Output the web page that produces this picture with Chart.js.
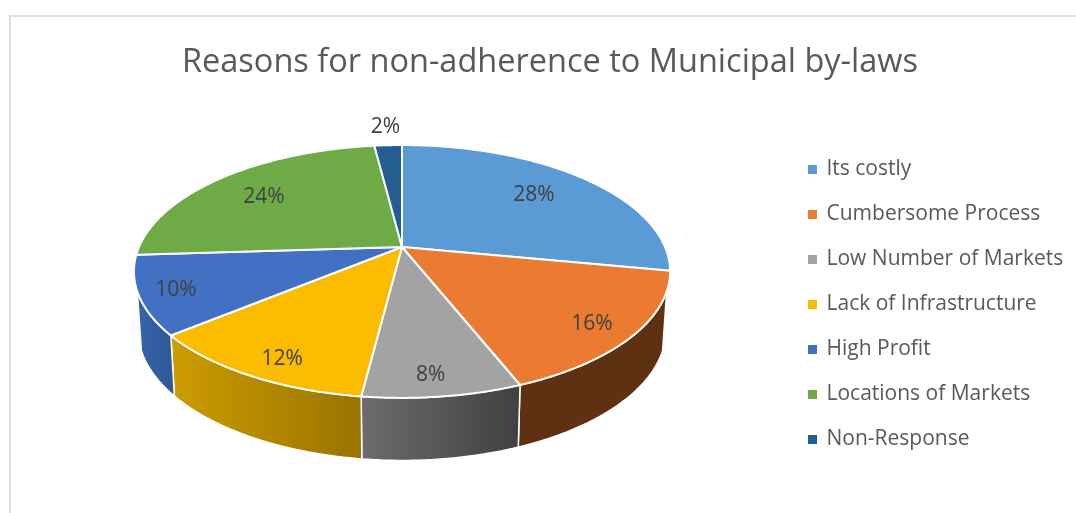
<!DOCTYPE html>
<html>
<head>
<meta charset="utf-8">
<title>Reasons for non-adherence to Municipal by-laws</title>
<script src="https://cdn.jsdelivr.net/npm/chart.js@4/dist/chart.umd.js"></script>
<style>
  html, body { margin: 0; background: #fff; overflow: hidden; }
  #frame { position: absolute; left: 9px; top: 15px; right: -2px; bottom: -2px; border: 2px solid #dedede; }
  #chart { position: absolute; left: 0; top: 0; }
</style>
</head>
<body>
<div id="frame"></div>
<canvas id="chart" width="1076" height="513"></canvas>
<script>
const titleText = 'Reasons for non-adherence to Municipal by-laws';
const categories = ['Its costly', 'Cumbersome Process', 'Low Number of Markets', 'Lack of Infrastructure', 'High Profit', 'Locations of Markets', 'Non-Response'];
const shares = [28, 16, 8, 12, 10, 24, 2];

const faceColors = ['#5b9bd5', '#eb7b30', '#a3a3a3', '#fbbc00', '#4270c2', '#6eab46', '#255e91'];
const wallColors = [
  ['#2f5f8a', '#2f5f8a'],
  ['#5f3113', '#5f3113'],
  ['#6c6c6c', '#404040'],
  ['#cc9c00', '#997300'],
  ['#3863ab', '#2f5795'],
  ['#3f6a28', '#3f6a28'],
  ['#163855', '#163855']
];
// where each percent label sits relative to its slice (Excel's best fit)
const labelRadius = [0.733, 0.848, 0.867, 0.861, 0.867, 0.737, 1.245];
const labelNudgeDeg = [-1.9, 0.9, 1.2, -2, 0, -0.5, 0];

// perspective of the tilted disc: top face and the (slightly smaller) bottom face
const TOP = { cx: 402, cy: 247, rx: 263, ry: 121.7, p: 0.1935 };
const BOTTOM = { cx: 402, cy: 304.7, rx: 259, ry: 125.6, p: 0.1935 };
const WALL_FROM = 110 * Math.PI / 180;
const WALL_TO = 250 * Math.PI / 180;

function project(disc, theta, r = 1) {
  const u = r * Math.sin(theta);
  const v = r * Math.cos(theta);
  const w = 1 + disc.p * v;
  return { x: disc.cx + disc.rx * u / w, y: disc.cy - disc.ry * v / w };
}

function rimPoints(disc, from, to) {
  const steps = Math.max(2, Math.ceil((to - from) / 0.01));
  const pts = [];
  for (let i = 0; i <= steps; i++) pts.push(project(disc, from + (to - from) * i / steps));
  return pts;
}

function tracePath(ctx, pts) {
  ctx.beginPath();
  pts.forEach((pt, i) => (i ? ctx.lineTo(pt.x, pt.y) : ctx.moveTo(pt.x, pt.y)));
  ctx.closePath();
}

function drawWall(ctx, index, from, to) {
  const start = Math.max(from, WALL_FROM);
  const end = Math.min(to, WALL_TO);
  if (end <= start) return;
  const pts = rimPoints(TOP, start, end).concat(rimPoints(BOTTOM, start, end).reverse());
  const xs = pts.map((pt) => pt.x);
  const gradient = ctx.createLinearGradient(Math.min(...xs), 0, Math.max(...xs), 0);
  gradient.addColorStop(0, wallColors[index][0]);
  gradient.addColorStop(1, wallColors[index][1]);
  tracePath(ctx, pts);
  ctx.fillStyle = gradient;
  ctx.fill();
  ctx.strokeStyle = '#fff';
  ctx.lineWidth = 1.5;
  ctx.stroke();
}

const pie3d = {
  id: 'pie3d',
  afterLayout(chart) {
    // Excel keeps the legend column in its own spot, not centred on the plot
    const legend = chart.legend;
    const pad = legend.options.labels.padding;
    const itemHeight = legend.options.labels.font.size;
    const left = 809 - pad;
    const top = 169.5 - pad - itemHeight / 2;
    legend.right += left - legend.left;
    legend.bottom += top - legend.top;
    legend.left = left;
    legend.top = top;
    const title = chart.titleBlock;
    title.left += 12;
    title.right += 12;
  },
  beforeDatasetDraw(chart, args) {
    const ctx = chart.ctx;
    const arcs = args.meta.data;
    const angles = arcs.map((arc) => [arc.startAngle + Math.PI / 2, arc.endAngle + Math.PI / 2]);

    ctx.save();
    ctx.lineJoin = 'round';
    arcs.forEach((arc, i) => drawWall(ctx, i, angles[i][0], angles[i][1]));

    arcs.forEach((arc, i) => {
      const pts = [project(TOP, 0, 0)].concat(rimPoints(TOP, angles[i][0], angles[i][1]));
      tracePath(ctx, pts);
      ctx.fillStyle = faceColors[i];
      ctx.fill();
      ctx.strokeStyle = '#fff';
      ctx.lineWidth = 2;
      ctx.stroke();
    });

    ctx.font = '21px "Open Sans"';
    ctx.fillStyle = '#404040';
    ctx.textAlign = 'center';
    ctx.textBaseline = 'middle';
    arcs.forEach((arc, i) => {
      const mid = (angles[i][0] + angles[i][1]) / 2 + labelNudgeDeg[i] * Math.PI / 180;
      const at = project(TOP, mid, labelRadius[i]);
      ctx.fillText(shares[i] + '%', at.x, at.y + 2);
    });
    ctx.restore();
    return false;
  }
};

new Chart(document.getElementById('chart'), {
  type: 'pie',
  data: {
    labels: categories,
    // border in the slice colour only fattens the legend keys; the faces are painted by pie3d
    datasets: [{ data: shares, backgroundColor: faceColors, borderColor: faceColors, borderWidth: 2 }]
  },
  plugins: [pie3d],
  options: {
    responsive: false,
    animation: false,
    layout: { padding: 0 },
    plugins: {
      tooltip: { enabled: false },
      title: {
        display: true,
        text: titleText,
        color: '#595959',
        font: { family: '"Open Sans"', size: 32.5, weight: 'normal', lineHeight: 1.2 },
        padding: { top: 43, bottom: 18 }
      },
      legend: {
        position: 'right',
        align: 'start',
        labels: {
          boxWidth: 7,
          boxHeight: 7,
          padding: 24,
          color: '#595959',
          font: { family: '"Open Sans"', size: 21 }
        }
      }
    }
  }
});
</script>
</body>
</html>
